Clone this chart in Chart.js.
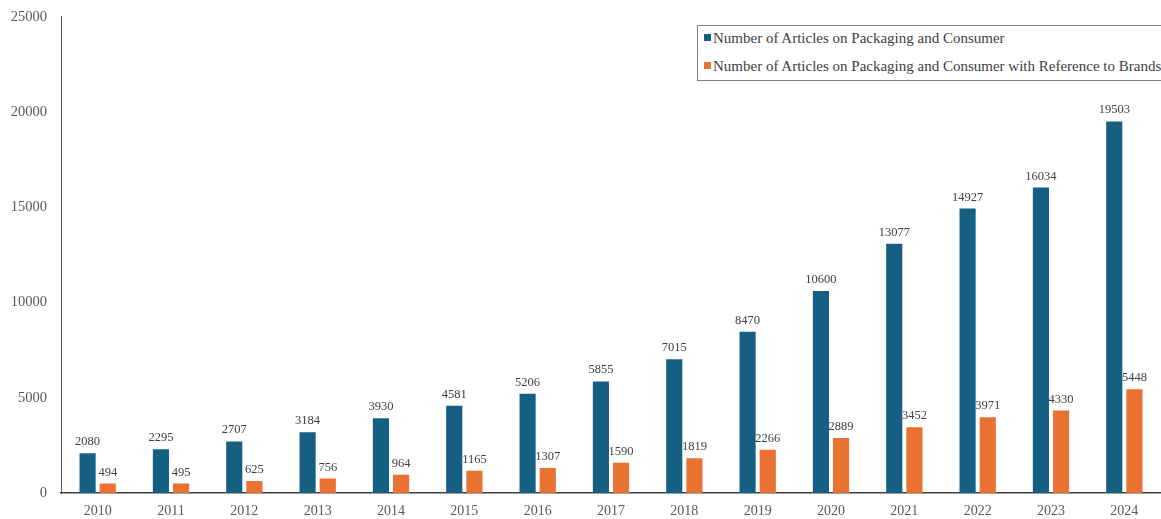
<!DOCTYPE html>
<html><head><meta charset="utf-8">
<script src="https://cdn.jsdelivr.net/npm/chart.js@4.4.1/dist/chart.umd.min.js"></script>
<style>
html,body{margin:0;padding:0;background:#fff;overflow:hidden;}
#wrap{position:relative;width:1161px;height:519px;overflow:hidden;}
#c{position:absolute;left:0;top:-6px;}
#legend{position:absolute;left:697px;top:25px;width:470px;height:56px;border:1px solid #7f7f7f;background:#fff;font-family:"Liberation Serif",serif;font-size:15px;color:#404040;box-sizing:border-box;}
.item{position:absolute;left:6px;white-space:nowrap;}
.sw{display:inline-block;width:7px;height:7px;margin-right:2px;vertical-align:2px;}
</style></head>
<body><div id="wrap"><canvas id="c" width="1161" height="525"></canvas>
<div id="legend">
<div class="item" style="top:4px"><span class="sw" style="background:#156082"></span><span id="l0"></span></div>
<div class="item" style="top:32px"><span class="sw" style="background:#E97132"></span><span id="l1"></span></div>
</div></div>
<script>
const categories = ["2010","2011","2012","2013","2014","2015","2016","2017","2018","2019","2020","2021","2022","2023","2024"];
const seriesNames = ["Number of Articles on Packaging and Consumer","Number of Articles on Packaging and Consumer with Reference to Brands"];
const articles = [2080,2295,2707,3184,3930,4581,5206,5855,7015,8470,10600,13077,14927,16034,19503];
const brandArticles = [494,495,625,756,964,1165,1307,1590,1819,2266,2889,3452,3971,4330,5448];
const yTicks = [0,5000,10000,15000,20000,25000];

document.getElementById('l0').textContent = seriesNames[0];
document.getElementById('l1').textContent = seriesNames[1];

const labelPlugin = {
  id:'vals',
  afterDatasetsDraw(chart){
    const ctx = chart.ctx;
    ctx.save();
    ctx.font = '12.5px "Liberation Serif", serif';
    ctx.fillStyle = '#404040';
    ctx.textAlign = 'center';
    ctx.textBaseline = 'bottom';
    chart.data.datasets.forEach((ds,di)=>{
      chart.getDatasetMeta(di).data.forEach((bar,i)=>{
        ctx.fillText(String(ds.data[i]), bar.x, bar.y-5);
      });
    });
    ctx.restore();
  }
};

new Chart(document.getElementById('c'),{
  type:'bar',
  data:{labels:categories,datasets:[
    {label:seriesNames[0],data:articles,backgroundColor:'#156082',barPercentage:0.8,categoryPercentage:0.55},
    {label:seriesNames[1],data:brandArticles,backgroundColor:'#E97132',barPercentage:0.8,categoryPercentage:0.55}
  ]},
  options:{
    responsive:false,animation:false,
    layout:{padding:{top:3,right:0,left:0,bottom:0}},
    plugins:{legend:{display:false},tooltip:{enabled:false}},
    scales:{
      x:{grid:{display:false,drawTicks:false},border:{color:'#404040',width:1.5},
         ticks:{color:'#595959',font:{family:'"Liberation Serif", serif',size:14},padding:10},
         afterFit(s){s.height=26;}},
      y:{min:0,max:25000,grid:{display:false,drawTicks:false},border:{color:'#595959',width:1},
         afterBuildTicks(s){s.ticks=yTicks.map(v=>({value:v}));},
         ticks:{color:'#595959',font:{family:'"Liberation Serif", serif',size:14.5},padding:14,callback:(v)=>String(v)},
         afterFit(s){s.width=61;}}
    }
  },
  plugins:[labelPlugin]
});
</script></body></html>
